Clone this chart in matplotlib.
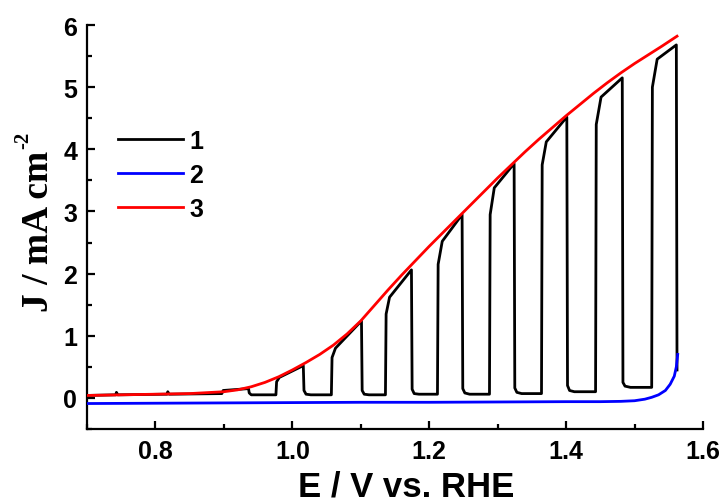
import matplotlib
matplotlib.use("Agg")
import matplotlib.pyplot as plt
from matplotlib.ticker import MultipleLocator

# Series 1: chopped-light LSV (black)
x1 = [0.700, 0.742, 0.743, 0.745, 0.817, 0.818, 0.820, 0.897, 0.899, 0.936, 0.937, 0.940, 0.976,
      0.977, 0.981, 1.016, 1.017, 1.020, 1.027, 1.057,
      1.058, 1.063, 1.101, 1.102, 1.105, 1.112, 1.136,
      1.137, 1.142, 1.174, 1.175, 1.178, 1.185, 1.212,
      1.213, 1.219, 1.248, 1.249, 1.252, 1.259, 1.288,
      1.289, 1.295, 1.324, 1.325, 1.328, 1.335, 1.364,
      1.365, 1.371, 1.401, 1.402, 1.405, 1.412, 1.443,
      1.444, 1.451, 1.482, 1.483, 1.486, 1.494, 1.525,
      1.526, 1.533, 1.561, 1.562]
y1 = [0.04, 0.05, 0.09, 0.05, 0.06, 0.10, 0.06, 0.07, 0.12, 0.15, 0.08, 0.05, 0.05,
      0.26, 0.33, 0.52, 0.12, 0.06, 0.05, 0.05,
      0.65, 0.80, 1.24, 0.12, 0.06, 0.05, 0.05,
      1.35, 1.62, 2.06, 0.14, 0.07, 0.06, 0.06,
      2.15, 2.52, 2.95, 0.15, 0.08, 0.06, 0.06,
      2.95, 3.38, 3.77, 0.16, 0.09, 0.07, 0.07,
      3.75, 4.12, 4.52, 0.20, 0.12, 0.10, 0.10,
      4.40, 4.84, 5.15, 0.25, 0.19, 0.17, 0.17,
      5.00, 5.45, 5.68, 0.45]

# Series 2: dark LSV (blue)
x2 = [0.70, 0.80, 0.90, 1.00, 1.10, 1.20, 1.30, 1.40, 1.45, 1.48, 1.50, 1.515, 1.525,
      1.535, 1.545, 1.552, 1.558, 1.561, 1.563]
y2 = [-0.09, -0.085, -0.08, -0.075, -0.07, -0.07, -0.065, -0.06, -0.06, -0.055, -0.045,
      -0.02, 0.01, 0.05, 0.12, 0.22, 0.35, 0.50, 0.70]

# Series 3: illuminated LSV (red)
x3 = [0.70, 0.75, 0.80, 0.85, 0.90, 0.92, 0.94, 0.96, 0.98, 1.00, 1.02, 1.04, 1.06, 1.08,
      1.10, 1.12, 1.14, 1.16, 1.18, 1.20, 1.22, 1.24, 1.26, 1.28, 1.30, 1.32, 1.34, 1.36,
      1.38, 1.40, 1.42, 1.44, 1.46, 1.48, 1.50, 1.52, 1.54, 1.562]
y3 = [0.04, 0.05, 0.06, 0.07, 0.10, 0.13, 0.18, 0.25, 0.34, 0.45, 0.57, 0.70, 0.85, 1.03,
      1.24, 1.49, 1.74, 1.98, 2.21, 2.44, 2.66, 2.88, 3.10, 3.32, 3.54, 3.75, 3.96, 4.16,
      4.35, 4.54, 4.72, 4.90, 5.07, 5.23, 5.38, 5.52, 5.66, 5.82]

labels = ["1", "2", "3"]
colors = ["black", "#0000ff", "#ff0000"]

sans = ["Liberation Sans", "DejaVu Sans"]
serif = ["Liberation Serif", "DejaVu Serif"]

fig = plt.figure(figsize=(7.25, 5.02), dpi=100)
ax = fig.add_axes([0.12, 0.1434, 0.8497, 0.8048])

ax.plot(x1, y1, color=colors[0], lw=2.0, label=labels[0], zorder=2)
ax.plot(x2, y2, color=colors[1], lw=2.0, label=labels[1], zorder=3)
ax.plot(x3, y3, color=colors[2], lw=2.0, label=labels[2], zorder=4)

ax.set_xlim(0.7, 1.6)
ax.set_ylim(-0.5, 6)
ax.xaxis.set_major_locator(MultipleLocator(0.2))
ax.xaxis.set_minor_locator(MultipleLocator(0.1))
ax.yaxis.set_major_locator(MultipleLocator(1))
ax.yaxis.set_minor_locator(MultipleLocator(0.5))

ax.spines["top"].set_visible(False)
ax.spines["right"].set_visible(False)
for s in ("left", "bottom"):
    ax.spines[s].set_linewidth(1.6)

ax.tick_params(which="both", direction="in", width=1.6, top=False, right=False)
ax.tick_params(which="major", length=6, pad=7)
ax.tick_params(which="minor", length=3.5)

ax.set_xticks([0.8, 1.0, 1.2, 1.4, 1.6])
ax.set_xticklabels(["0.8", "1.0", "1.2", "1.4", "1.6"])
ax.set_yticks([0, 1, 2, 3, 4, 5, 6])
for lab in ax.get_xticklabels() + ax.get_yticklabels():
    lab.set_family(sans)
    lab.set_fontweight("bold")
    lab.set_fontsize(18)

ax.set_xlabel("E / V vs. RHE", family=sans, fontweight="bold", fontsize=25)
ax.xaxis.set_label_coords(0.518, -0.100)

# y label: main text plus a small raised "-2"
ylab = fig.text(0.0662, 0.540, "J / mA cm", family=serif, fontweight="bold", fontsize=27,
                rotation=90, rotation_mode="anchor", ha="center", va="baseline")
fig.canvas.draw()
bb = ylab.get_window_extent(renderer=fig.canvas.get_renderer())
W, H = fig.bbox.width, fig.bbox.height
fig.text(0.0662 - 20 / W, (bb.y1 + 1) / H, "-2", family=serif, fontweight="bold", fontsize=15,
         rotation=90, rotation_mode="anchor", ha="left", va="baseline")

leg = ax.legend(loc="upper left", bbox_to_anchor=(0.014, 0.799), frameon=False,
                handlelength=2.6, handletextpad=0.25, labelspacing=0.4,
                prop={"family": sans, "weight": "bold", "size": 18})

fig.savefig("out.png", dpi=100)
